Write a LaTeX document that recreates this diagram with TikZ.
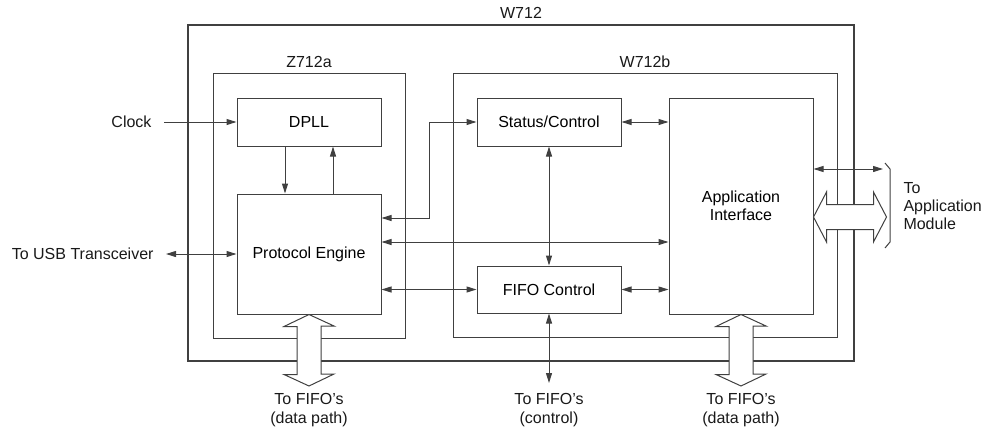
\documentclass[tikz,border=0pt]{standalone}
\usepackage{fontspec}
\setmainfont{Liberation Sans}
\usetikzlibrary{arrows.meta, positioning}

\begin{document}
\begin{tikzpicture}[
        x=0.5pt, y=-0.5pt,
        font=\fontsize{8}{9}\selectfont,
        line width=0.5pt,
        box/.style={draw=black!75, rectangle, inner sep=0pt, align=center},
        chip/.style={draw=black!75, rectangle, inner sep=0pt},
        lbl/.style={inner sep=0pt, text=black!90},
        side/.style={inner xsep=6pt, inner ysep=0pt, text=black!90},
        sink/.style={anchor=north, inner sep=3.5pt, align=center, text=black!90,
            font=\fontsize{8}{9.5}\selectfont},
        arr/.style={draw=black!75, -{Triangle[length=5pt,width=3pt]}},
        dblarr/.style={draw=black!75, {Triangle[length=5pt,width=3pt]}-{Triangle[length=5pt,width=3pt]}},
        bus/.style={draw=black!75, fill=white, line join=miter}
    ]
        \useasboundingbox (0,0) rectangle (990,429);

        % chips
        \node[chip, line width=1pt, minimum width=333pt, minimum height=168pt] (w712) at (521,193) {};
        \node[lbl] (w712lbl) at (521,13) {W712};
        \node[chip, minimum width=96pt, minimum height=132.5pt] (z712a) at (309,205.5) {};
        \node[lbl] (z712albl) at (309,62) {Z712a};
        \node[chip, minimum width=192pt, minimum height=132pt] (w712b) at (645,205) {};
        \node[lbl] (w712blbl) at (645,62) {W712b};

        % blocks
        \node[box, minimum width=72pt, minimum height=24pt] (dpll) at (309,122) {DPLL};
        \node[box, minimum width=72pt, minimum height=60pt] (pe) at (309,254) {Protocol Engine};
        \node[box, minimum width=72pt, minimum height=24pt] (sc) at (549,122) {Status/Control};
        \node[box, minimum width=72pt, minimum height=23.5pt] (fifo) at (549,289.5) {FIFO Control};
        \node[box, minimum width=72pt, minimum height=108pt] (ai) at (741,206) {Application\\Interface};

        % outside texts
        \node[side, anchor=east] (clock) at (164,122) {Clock};
        \node[side, anchor=east] (usb) at (166,254) {To USB Transceiver};
        \node[lbl, anchor=west, align=left] (appmod) at (903,206) {To\\Application\\Module};
        \coordinate (append) at (883,169);
        \coordinate (ctlend) at (549,383);
        \coordinate (busaend) at (309,386);
        \coordinate (busbend) at (741,386);
        \node[sink] (busalbl) at (busaend) {To FIFO's\\(data path)};
        \node[sink] (ctllbl) at (ctlend |- busaend) {To FIFO's\\(control)};
        \node[sink] (busblbl) at (busbend) {To FIFO's\\(data path)};

        % signals
        \draw[arr] (clock.east) -- (dpll.west);
        \draw[dblarr] (usb.east) -- (pe.west);
        \draw[arr] ([xshift=-12pt]dpll.south) -- ([xshift=-12pt]pe.north);
        \draw[arr] ([xshift=12pt]pe.north) -- ([xshift=12pt]dpll.south);
        \draw[dblarr] ([yshift=18pt]pe.east) -- ++(48,0) |- (sc.west);
        \draw[dblarr] ([yshift=6pt]pe.east) -- ([yshift=6pt]pe.east -| ai.west);
        \draw[dblarr] (fifo.west -| pe.east) -- (fifo.west);
        \draw[dblarr] (sc.east) -- (sc.east -| ai.west);
        \draw[dblarr] (fifo.east) -- (fifo.east -| ai.west);
        \draw[dblarr] (sc.south) -- (fifo.north);
        \draw[dblarr] (fifo.south) -- (ctlend);
        \draw[dblarr] (append -| ai.east) -- (append);

        % buses
        \draw[bus] (pe.south) -- ++(-25,12) -- ++(13,0) -- ++(0,48) -- ++(-13,0) -- (busaend)
            -- ++(25,-12) -- ++(-13,0) -- ++(0,-48) -- ++(13,0) -- cycle;
        \draw[bus] (ai.south) -- ++(-25,12) -- ++(13,0) -- ++(0,48) -- ++(-13,0) -- (busbend)
            -- ++(25,-12) -- ++(-13,0) -- ++(0,-48) -- ++(13,0) -- cycle;
        \draw[bus] ([yshift=-5.5pt]ai.east) -- ++(13,-25) -- ++(0,12.5) -- ++(47,0) -- ++(0,-12.5)
            -- ++(13,25) -- ++(-13,25) -- ++(0,-12.5) -- ++(-47,0) -- ++(0,12.5) -- cycle;
        \draw[draw=black!75] (885,163) -- (890,169) -- (890,242) -- (885,248);
    \end{tikzpicture}
\end{document}
